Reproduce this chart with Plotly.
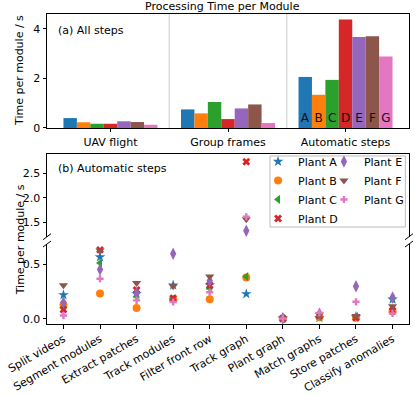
import plotly.graph_objects as go

# ---------------- data ----------------
steps = ["UAV flight", "Group frames", "Automatic steps"]
plants = ["Plant A", "Plant B", "Plant C", "Plant D", "Plant E", "Plant F", "Plant G"]
letters = ["A", "B", "C", "D", "E", "F", "G"]
colors = ["#1f77b4", "#ff7f0e", "#2ca02c", "#d62728", "#9467bd", "#8c564b", "#e377c2"]
symbols = ["star", "circle", "triangle-left", "x", "diamond-tall", "triangle-down", "cross"]

step_A = [0.40, 0.75, 2.06]
step_B = [0.23, 0.59, 1.34]
step_C = [0.17, 1.05, 1.94]
step_D = [0.17, 0.36, 4.38]
step_E = [0.27, 0.79, 3.67]
step_F = [0.24, 0.95, 3.70]
step_G = [0.13, 0.20, 2.88]
step_values = [step_A, step_B, step_C, step_D, step_E, step_F, step_G]

modules = ["Split videos", "Segment modules", "Extract patches", "Track modules",
           "Filter front row", "Track graph", "Plant graph", "Match graphs",
           "Store patches", "Classify anomalies"]
mod_A = [0.22, 0.57, 0.23, 0.31, 0.31, 0.23, 0.003, 0.010, 0.020, 0.18]
mod_B = [0.13, 0.233, 0.10, 0.18, 0.18, 0.38, 0.003, 0.015, 0.010, 0.07]
mod_C = [0.10, 0.515, 0.205, 0.185, 0.28, 0.39, 0.003, 0.020, 0.020, 0.185]
mod_D = [0.085, 0.636, 0.265, 0.19, 0.31, 2.74, 0.003, 0.030, 0.010, 0.075]
mod_E = [0.15, 0.455, 0.235, 0.60, 0.35, 1.32, 0.005, 0.045, 0.30, 0.197]
mod_F = [0.31, 0.63, 0.33, 0.30, 0.39, 1.56, 0.003, 0.040, 0.025, 0.115]
mod_G = [0.03, 0.37, 0.17, 0.155, 0.245, 1.61, 0.003, 0.055, 0.157, 0.05]
mod_values = [mod_A, mod_B, mod_C, mod_D, mod_E, mod_F, mod_G]

# ---------------- figure ----------------
FONT = "DejaVu Sans"
FS = 11
fig = go.Figure()

for i, p in enumerate(plants):
    txt = ["" for _ in steps[:-1]] + [letters[i]]
    fig.add_trace(go.Bar(
        x=steps, y=step_values[i], name=p, marker_color=colors[i],
        marker_line_width=0, text=txt, textposition="inside",
        insidetextanchor="start", textangle=0,
        insidetextfont=dict(family=FONT, size=12, color="#111111"),
        showlegend=False, xaxis="x", yaxis="y"))

for i, p in enumerate(plants):
    mk = dict(symbol=symbols[i], color=colors[i], size=8, line=dict(width=0))
    if symbols[i] == "cross":
        mk["size"] = 6
    if symbols[i] == "diamond-tall":
        mk["size"] = 9
    if symbols[i] == "x":
        mk["size"] = 7
    leg = "legend" if i < 4 else "legend2"
    fig.add_trace(go.Scatter(x=modules, y=mod_values[i], mode="markers", name=p,
                             marker=mk, showlegend=False, xaxis="x3", yaxis="y2"))
    fig.add_trace(go.Scatter(x=modules, y=mod_values[i], mode="markers", name=p,
                             marker=mk, showlegend=True, legend=leg,
                             xaxis="x2", yaxis="y3"))

axis_common = dict(showline=True, linecolor="black", linewidth=1, ticks="outside",
                   ticklen=3.5, tickwidth=0.8, tickcolor="black", showgrid=False,
                   zeroline=False, automargin=False,
                   tickfont=dict(family=FONT, size=FS, color="black"))

fig.update_layout(
    width=415, height=395,
    margin=dict(l=47, r=6, t=14, b=71, autoexpand=False),
    plot_bgcolor="white", paper_bgcolor="white",
    font=dict(family=FONT, size=FS, color="black"),
    barmode="group", bargap=0.2, bargroupgap=0,
    uniformtext=dict(minsize=12, mode="show"),
    xaxis=dict(axis_common, domain=[0, 1], anchor="y", mirror=True,
               range=[-0.54, 2.54], type="category"),
    yaxis=dict(axis_common, domain=[0.6323, 1], anchor="x", mirror=True,
               range=[0, 4.6], tickvals=[0, 2, 4]),
    xaxis2=dict(axis_common, domain=[0, 1], anchor="y3", range=[-0.45, 9.45],
                type="category", tickangle=-30),
    yaxis3=dict(axis_common, domain=[0, 0.258], anchor="x2", mirror=True,
                range=[-0.048, 0.69], tickvals=[0.0, 0.5], ticktext=["0.0", "0.5"]),
    xaxis3=dict(axis_common, domain=[0, 1], anchor="y2", side="top", matches="x2",
                type="category", ticks="", showticklabels=False),
    yaxis2=dict(axis_common, domain=[0.2816, 0.5484], anchor="x3", mirror=True,
                range=[1.2, 2.9], tickvals=[1.5, 2.0, 2.5], ticktext=["1.5", "2.0", "2.5"]),
    legend=dict(x=0.583, y=0.571, xanchor="left", yanchor="top",
                bgcolor="rgba(0,0,0,0)", borderwidth=0, itemwidth=30,
                font=dict(family=FONT, size=FS, color="black"), tracegroupgap=0),
    legend2=dict(x=0.765, y=0.571, xanchor="left", yanchor="top",
                 bgcolor="rgba(0,0,0,0)", borderwidth=0, itemwidth=30,
                 font=dict(family=FONT, size=FS, color="black"), tracegroupgap=0),
)

shapes = []
for xv in [0.5, 1.5]:
    shapes.append(dict(type="line", xref="x", yref="y domain", x0=xv, x1=xv, y0=0, y1=1,
                       line=dict(color="#cccccc", width=1), layer="below"))

# legend frame, drawn inside the upper part of panel (b)
shapes.append(dict(type="rect", xref="x3 domain", yref="y2 domain",
                   x0=0.616, x1=0.990, y0=0.117, y1=0.976,
                   fillcolor="rgba(255,255,255,0.8)", line=dict(color="#bcbcbc", width=1),
                   layer="above"))

dx, dy = 4/362, 3/310
for xb in [0, 1]:
    for yb in [0.2816, 0.258]:
        shapes.append(dict(type="line", xref="paper", yref="paper",
                           x0=xb - dx, x1=xb + dx, y0=yb - dy, y1=yb + dy,
                           line=dict(color="black", width=1)))
fig.update_layout(shapes=shapes)

annotations = [
    dict(text="Processing Time per Module", xref="paper", yref="paper", x=0.486, y=1,
         xanchor="center", yanchor="bottom", showarrow=False, yshift=-1,
         font=dict(family=FONT, size=FS, color="black")),
    dict(text="(a) All steps", xref="x domain", yref="y domain", x=0, y=1,
         xanchor="left", yanchor="middle", xshift=9, yshift=-16, showarrow=False,
         font=dict(family=FONT, size=FS, color="black")),
    dict(text="(b) Automatic steps", xref="x domain", yref="y2 domain", x=0, y=1,
         xanchor="left", yanchor="middle", xshift=9, yshift=-15, showarrow=False,
         font=dict(family=FONT, size=FS, color="black")),
    dict(text="Time per module / s", xref="paper", yref="y domain", x=0, y=0.5,
         xanchor="center", yanchor="middle", xshift=-27, textangle=-90, showarrow=False,
         font=dict(family=FONT, size=FS, color="black")),
    dict(text="Time per module / s", xref="paper", yref="paper", x=0, y=0.27,
         xanchor="center", yanchor="middle", xshift=-27, textangle=-90, showarrow=False,
         font=dict(family=FONT, size=FS, color="black")),
]
fig.update_layout(annotations=annotations)

fig.write_html("out.html", config={"displayModeBar": False},
               post_script="document.body.style.margin='0px';"
                           "document.body.style.overflow='hidden';")
